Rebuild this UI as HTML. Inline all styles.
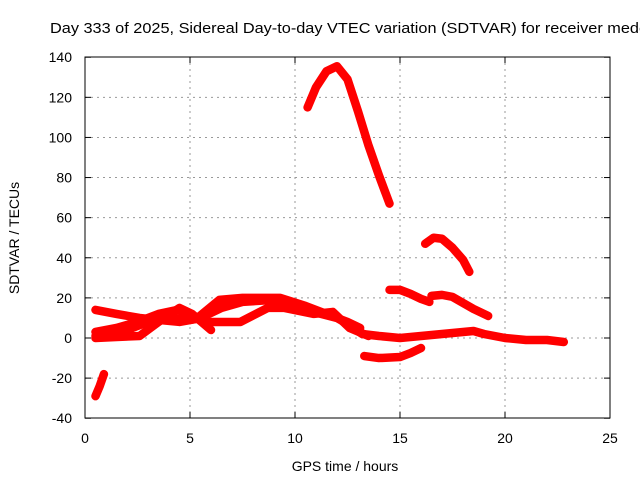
<!DOCTYPE html>
<html><head><meta charset="utf-8"><style>
body{margin:0;background:#fff;}
svg{display:block;font-family:"Liberation Sans",sans-serif;}
</style></head><body>
<svg id="c" width="640" height="480">
<rect x="0" y="0" width="640" height="480" fill="#fff"/>
<text x="50" y="33" font-size="15" textLength="598" lengthAdjust="spacingAndGlyphs">Day 333 of 2025, Sidereal Day-to-day VTEC variation (SDTVAR) for receiver medo</text>
<g id="grid"></g>
<g id="series"></g>
<rect x="85" y="57" width="525" height="361" fill="none" stroke="#000" stroke-width="1"/>
<g id="ticks"></g>
<text x="345" y="471" font-size="14" text-anchor="middle">GPS time / hours</text>
<text transform="translate(19,238) rotate(-90)" font-size="14" text-anchor="middle">SDTVAR / TECUs</text>
</svg>
<script>
const xTicks=[0,5,10,15,20,25];
const yTicks=[-40,-20,0,20,40,60,80,100,120,140];
const arcHigh=[[10.6,115],[11,125],[11.5,133],[12,135.5],[12.5,129],[13,113],[13.5,96],[14,81],[14.5,67]];
const arcMid=[[16.2,47],[16.6,50],[17,49.5],[17.5,45],[18,39],[18.3,33]];
const midA=[[14.5,24],[15,24],[15.5,22],[16,19.5],[16.4,18]];
const midB=[[16.5,21],[17,21.5],[17.5,20.5],[18,17.5],[18.5,14.5],[19.2,11]];
const negEarly=[[0.5,-29],[0.7,-24],[0.9,-18]];
const negLate=[[13.3,-9],[14,-10],[15,-9.5],[15.5,-7.5],[16,-5]];
const flatLate=[[11.7,12],[12.5,7],[13.2,2],[14,1],[15,0],[16,1],[17,2],[18,3],[18.5,3.5],[19,2],[20,0],[21,-1],[22,-1],[22.8,-2]];
const bandUpper=[[0.5,14],[1.5,12],[2.6,10],[3.5,9],[4.5,8],[5.3,9.5],[6.4,19],[7.5,20],[9.3,20],[10.5,16],[11.5,12],[12.5,8],[13.1,5]];
const bandLower=[[0.5,0],[1.5,0.5],[2.6,1],[3.5,8],[4.5,15],[5.1,12],[6,4]];
const bandMid=[[0.5,3],[1.5,5],[2.5,8],[3.5,12],[4.4,14],[5.8,8],[7.4,8],[8.7,15],[9.5,15],[10.9,12],[11.8,13],[12.6,5],[13.5,1]];
const bandLow2=[[0.5,1],[1.2,1],[2,4],[3,8],[4,10],[5,9],[5.5,10],[6.5,15],[7.5,18],[9,19],[10.5,14],[12,10],[13,4]];
const allSeries=[arcHigh,arcMid,midA,midB,negEarly,negLate,flatLate,bandUpper,bandLower,bandMid,bandLow2];
const X=h=>85+21*h, Y=v=>338-2.0056*v;
const NS='http://www.w3.org/2000/svg';
const grid=document.getElementById('grid'),ticks=document.getElementById('ticks'),ser=document.getElementById('series');
function mk(t,a,p){const e=document.createElementNS(NS,t);for(const k in a)e.setAttribute(k,a[k]);p.appendChild(e);return e;}
xTicks.forEach(t=>{
 if(t>0&&t<25){const g=mk('line',{x1:X(t),x2:X(t),y1:57,y2:418,stroke:'#999','stroke-dasharray':'2,4'},grid);
 
 }
 mk('line',{x1:X(t),x2:X(t),y1:418,y2:412,stroke:'#000'},ticks);
 mk('line',{x1:X(t),x2:X(t),y1:57,y2:63,stroke:'#000'},ticks);
 const l=mk('text',{x:X(t),y:443,'font-size':14,'text-anchor':'middle'},ticks);l.textContent=t;
 
 
});
yTicks.forEach(t=>{
 if(t>-40&&t<140){const g=mk('line',{x1:85,x2:610,y1:Y(t),y2:Y(t),stroke:'#999','stroke-dasharray':'2,4'},grid);
 
 }
 mk('line',{x1:85,x2:91,y1:Y(t),y2:Y(t),stroke:'#000'},ticks);
 mk('line',{x1:604,x2:610,y1:Y(t),y2:Y(t),stroke:'#000'},ticks);
 const l=mk('text',{x:72,y:Y(t)+5,'font-size':14,'text-anchor':'end'},ticks);l.textContent=t;
 
 
});
allSeries.forEach((s,i)=>{
 const p=mk('polyline',{points:s.map(d=>X(d[0])+','+Y(d[1])).join(' '),fill:'none',stroke:'#f00','stroke-width':8.5,'stroke-linejoin':'round','stroke-linecap':'round'},ser);
 
 
});
</script>
</body></html>
